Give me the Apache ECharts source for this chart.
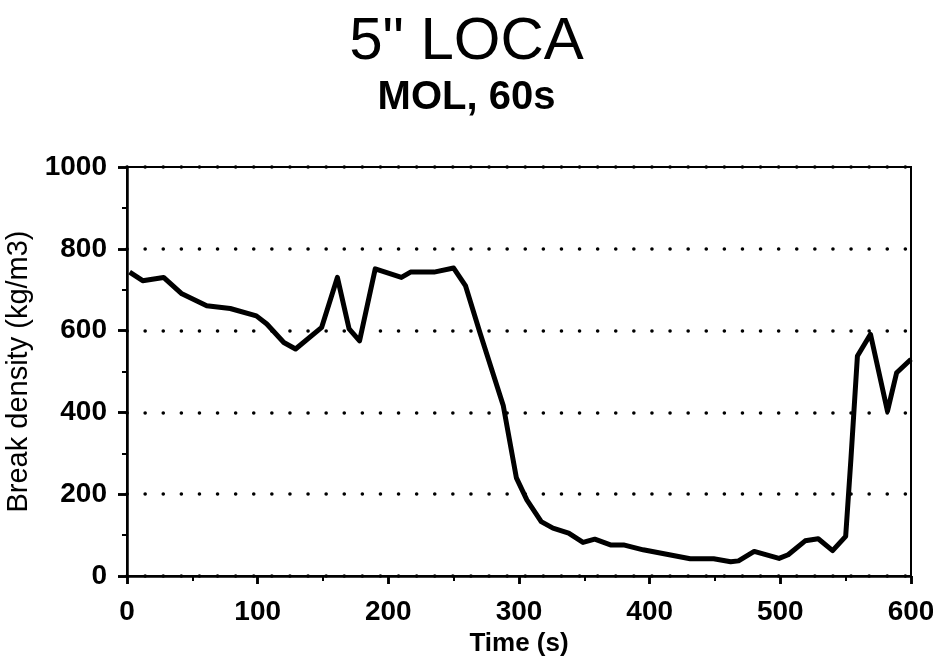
<!DOCTYPE html>
<html>
<head>
<meta charset="utf-8">
<script src="https://cdn.jsdelivr.net/npm/echarts@6/dist/echarts.min.js"></script>
<style>
  html, body { margin: 0; padding: 0; background: #fff; }
  #chart { width: 933px; height: 662px; }
</style>
</head>
<body>
<div id="chart"></div>
<script>
// break density trace
const times = [2, 12, 28, 42, 61, 79, 99, 107, 120, 129, 149, 161, 170, 178, 190, 210, 217, 235, 250, 259, 270, 288, 298,
  306, 317, 326, 338, 349, 358, 370, 380, 395, 413, 431, 449, 462, 468, 480, 499, 506, 519, 529, 540, 550, 554, 559, 569, 582, 589, 600];
const density = [743, 722, 730, 690, 661, 654, 636, 616, 571, 555, 608, 730, 604, 575, 751, 730, 743, 743, 753, 710, 596, 416, 240,
  186, 133, 117, 105, 82, 90, 76, 76, 64, 53, 42, 42, 35, 37, 60, 43, 52, 86, 91, 62, 97, 285, 538, 591, 403, 497, 530];
const xTicks = [0, 100, 200, 300, 400, 500, 600];
const yTicks = [0, 200, 400, 600, 800, 1000];

const font = '"Liberation Sans", Arial, sans-serif';
const chart = echarts.init(document.getElementById('chart'));

const baseX = {
  type: 'value', min: xTicks[0], max: xTicks[xTicks.length - 1], interval: 100,
  splitLine: { show: false }
};
const baseY = {
  type: 'value', min: yTicks[0], max: yTicks[yTicks.length - 1], interval: 200
};

chart.setOption({
  animation: false,
  title: [
    { text: '5" LOCA', left: 'center', top: 7,
      textStyle: { fontFamily: font, fontSize: 60, fontWeight: 'normal', color: '#000' } },
    { text: 'MOL, 60s', left: 'center', top: 73,
      textStyle: { fontFamily: font, fontSize: 40, fontWeight: 'bold', color: '#000' } }
  ],
  grid: { left: 127, right: 22, top: 167, bottom: 86, outerBoundsMode: 'none', containLabel: false,
    show: true, borderColor: '#000', borderWidth: 2 },
  xAxis: [
    Object.assign({}, baseX, {
      name: 'Time (s)', nameLocation: 'middle', nameGap: 50,
      nameTextStyle: { fontFamily: font, fontSize: 26, fontWeight: 'bold', color: '#000' },
      axisLine: { lineStyle: { color: '#000', width: 2.5 } },
      axisTick: { show: true, inside: false, length: 8, lineStyle: { color: '#000', width: 2.5 } },
      minorTick: { show: true, splitNumber: 2, length: 5, lineStyle: { color: '#000', width: 2 } },
      axisLabel: { margin: 22, fontFamily: font, fontSize: 28, fontWeight: 'bold', color: '#000' }
    }),
    Object.assign({}, baseX, {
      axisLine: { show: false },
      axisTick: { show: true, inside: true, length: 8, lineStyle: { color: '#000', width: 2.5 } },
      minorTick: { show: true, splitNumber: 2, length: 5, lineStyle: { color: '#000', width: 2 } },
      axisLabel: { show: false }
    })
  ],
  yAxis: [
    Object.assign({}, baseY, {
      name: 'Break density (kg/m3)', nameLocation: 'middle', nameGap: 87,
      nameTextStyle: { fontFamily: font, fontSize: 29, color: '#000' },
      axisLine: { show: true, lineStyle: { color: '#000', width: 2.5 } },
      axisTick: { show: true, inside: false, length: 9, lineStyle: { color: '#000', width: 2.5 } },
      minorTick: { show: true, splitNumber: 2, length: 5, lineStyle: { color: '#000', width: 2 } },
      axisLabel: { margin: 20, fontFamily: font, fontSize: 28, fontWeight: 'bold', color: '#000',
        formatter: v => String(v) },
      splitLine: { show: true, lineStyle: { color: '#000', width: 3.5, type: [0.1, 18], cap: 'round' } }
    }),
    Object.assign({}, baseY, {
      axisLine: { show: false },
      axisTick: { show: true, inside: true, length: 9, lineStyle: { color: '#000', width: 2.5 } },
      minorTick: { show: true, splitNumber: 2, length: 5, lineStyle: { color: '#000', width: 2 } },
      axisLabel: { show: false },
      splitLine: { show: false }
    })
  ],
  series: [{
    type: 'line',
    data: times.map((t, i) => [t, density[i]]),
    showSymbol: false,
    lineStyle: { color: '#000', width: 5, join: 'round' },
    z: 5
  }]
});
</script>
</body>
</html>
